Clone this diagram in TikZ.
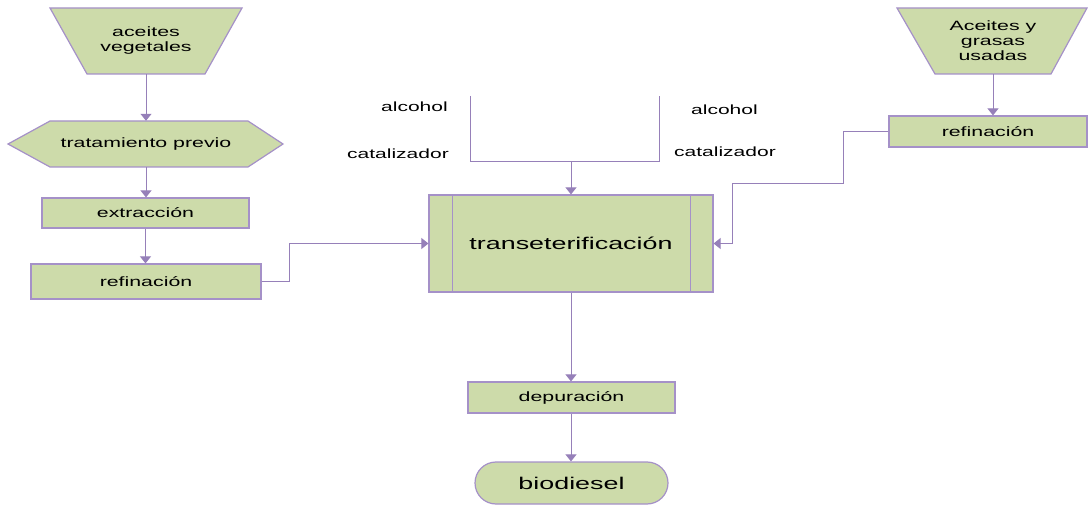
\documentclass[tikz,border=0pt]{standalone}
\usepackage{fontspec}
\setmainfont[FakeStretch=1.58]{Liberation Sans}
\usetikzlibrary{arrows.meta,shapes.misc}
\definecolor{boxfill}{RGB}{205,219,170}
\definecolor{boxline}{RGB}{165,145,200}
\definecolor{flow}{RGB}{150,128,185}
\begin{document}
\begin{tikzpicture}[x=1pt,y=-1pt,
  flowarrow/.style={draw=flow, line width=1pt, -{Triangle[width=11pt,length=7pt]}},
  flowline/.style={draw=flow, line width=1pt},
  shapeline/.style={draw=boxline, fill=boxfill, line width=1.2pt},
  box/.style={shapeline, rectangle, inner sep=0pt, font=\fontsize{13.5}{15}\selectfont},
  txt/.style={inner sep=0pt, align=center, font=\fontsize{13.5}{15}\selectfont},
  lbl/.style={inner sep=0pt, anchor=base, font=\fontsize{13.3}{15}\selectfont}]
\useasboundingbox (0,0) rectangle (1088,505);

% source: vegetable oils
\filldraw[shapeline] (50,8) -- (242,8) -- (205,74) -- (87,74) -- cycle;
\node[txt, minimum width=192pt, minimum height=66pt] (veg) at (146,41) {aceites\\vegetales};

% pre-treatment (hexagon)
\filldraw[shapeline] (8,144) -- (50,121) -- (248,121) -- (283,144) -- (248,167) -- (50,167) -- cycle;
\node[txt, minimum width=275pt, minimum height=46pt] (trat) at (146,144) {tratamiento previo};

\node[box, minimum width=207pt, minimum height=30pt] (extr) at (145.5,213) {extracción};
\node[box, minimum width=230pt, minimum height=35pt] (refL) at (146,281.5) {refinación};

% source: used oils and fats
\filldraw[shapeline] (897,8) -- (1087,8) -- (1051,74) -- (935,74) -- cycle;
\node[txt, minimum width=190pt, minimum height=66pt] (used) at (993,41) {Aceites y\\grasas\\usadas};
\node[box, minimum width=198pt, minimum height=31pt] (refR) at (988,131.5) {refinación};

% central process with side bars
\node[box, minimum width=284pt, minimum height=97pt, font=\fontsize{17}{20}\selectfont] (trans) at (571,243.5) {transeterificación};
\draw[boxline, line width=1.2pt] ([xshift=24pt]trans.north west) -- ([xshift=24pt]trans.south west);
\draw[boxline, line width=1.2pt] ([xshift=-23pt]trans.north east) -- ([xshift=-23pt]trans.south east);

\node[box, minimum width=207pt, minimum height=31pt] (dep) at (571.5,397.5) {depuración};
\node[shapeline, rounded rectangle, inner sep=0pt, minimum width=193pt, minimum height=42pt,
      font=\fontsize{17}{20}\selectfont] (bio) at (571.5,483) {biodiesel};

% reagent labels
\node[lbl] (alcL) at (414.5,112) {alcohol};
\node[lbl] (catL) at (398,159) {catalizador};
\node[lbl] (alcR) at (724.5,115) {alcohol};
\node[lbl] (catR) at (725,157) {catalizador};

% reagent feed bracket
\coordinate (bTL) at (470,96);
\coordinate (bBL) at (470,162);
\coordinate (bBR) at (659,162);
\coordinate (bTR) at (659,96);
\coordinate (bMid) at (571,162);
\draw[flowline] (bTL) -- (bBL) -- (bBR) -- (bTR);
\draw[flowarrow] (bMid) -- (trans.north);

% left chain
\draw[flowarrow] (veg.south) -- (veg.south |- trat.north);
\draw[flowarrow] (trat.south) -- (trat.south |- extr.north);
\draw[flowarrow] (extr.south) -- (extr.south |- refL.north);
\coordinate (lk) at (289,281.5);
\draw[flowarrow] (refL.east) -- (lk) |- (trans.west);

% right chain
\draw[flowarrow] (used.south) -- (used.south |- refR.north);
\coordinate (r1) at (843,184);
\coordinate (r2) at (732,184);
\draw[flowarrow] (refR.west) -| (r1) -- (r2) |- (trans.east);

% output chain
\draw[flowarrow] (trans.south) -- (dep.north -| trans.south);
\draw[flowarrow] (dep.south -| trans.south) -- (bio.north -| trans.south);
\end{tikzpicture}
\end{document}
